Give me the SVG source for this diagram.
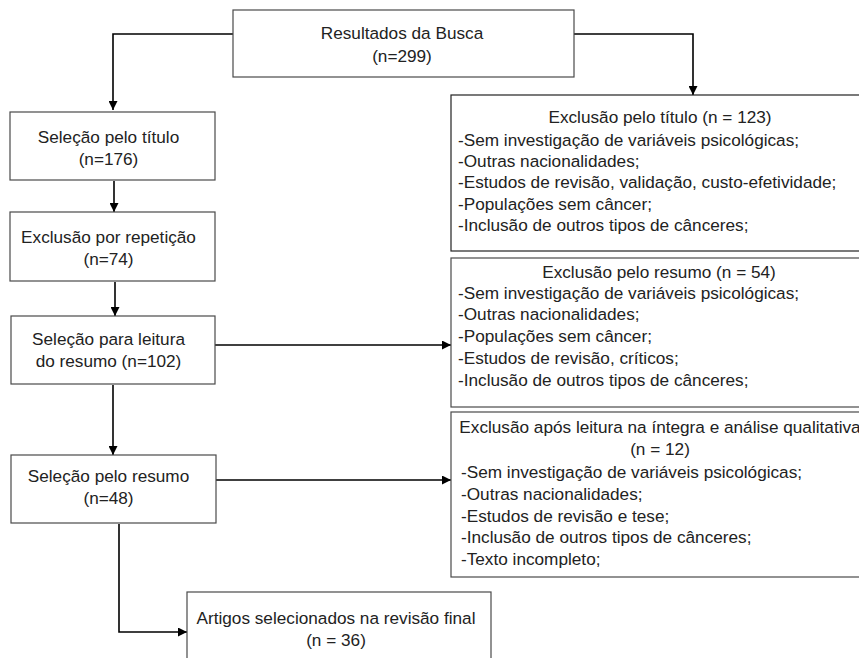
<svg xmlns="http://www.w3.org/2000/svg" width="859" height="658" viewBox="0 0 859 658">
<defs>
<style>
.box{fill:#fff;stroke:#4a4a4a;stroke-width:1.2}
.t{font-family:"Liberation Sans",Arial,sans-serif;font-size:17.2px;fill:#222}
.c{text-anchor:middle}
.edge{fill:none;stroke:#000;stroke-width:1.6}
</style>
<marker id="ah" viewBox="0 0 10 10" refX="10" refY="5" markerWidth="9" markerHeight="9" markerUnits="userSpaceOnUse" orient="auto">
<path d="M0,0 L10,5 L0,10 z" fill="#000"/>
</marker>
</defs>
<rect width="859" height="658" fill="#fff"/>
<g id="connectors">
<path class="edge" d="M233,34 H113 V110" marker-end="url(#ah)"/>
<path class="edge" d="M574,34 H693 V95" marker-end="url(#ah)"/>
<path class="edge" d="M114,181 V212" marker-end="url(#ah)"/>
<path class="edge" d="M115,282 V316" marker-end="url(#ah)"/>
<path class="edge" d="M215,345 H451" marker-end="url(#ah)"/>
<path class="edge" d="M113,385 V455" marker-end="url(#ah)"/>
<path class="edge" d="M216,480 H451" marker-end="url(#ah)"/>
<path class="edge" d="M119,524 V632 H187" marker-end="url(#ah)"/>
</g>
<g id="n_busca">
<rect class="box" x="233" y="10" width="341" height="67"/>
<text class="t c" x="402" y="39">Resultados da Busca</text>
<text class="t c" x="402" y="62">(n=299)</text>
</g>
<g id="n_titulo">
<rect class="box" x="10" y="112" width="205" height="68"/>
<text class="t c" x="108.5" y="143">Seleção pelo título</text>
<text class="t c" x="108.5" y="165">(n=176)</text>
</g>
<g id="n_repeticao">
<rect class="box" x="10" y="212" width="205" height="69"/>
<text class="t c" x="108.5" y="243">Exclusão por repetição</text>
<text class="t c" x="108.5" y="265">(n=74)</text>
</g>
<g id="n_leitura">
<rect class="box" x="11" y="316" width="204" height="68"/>
<text class="t c" x="108.5" y="345">Seleção para leitura</text>
<text class="t c" x="108.5" y="367">do resumo (n=102)</text>
</g>
<g id="n_resumo">
<rect class="box" x="11" y="455" width="205" height="68"/>
<text class="t c" x="108.5" y="482">Seleção pelo resumo</text>
<text class="t c" x="108.5" y="504">(n=48)</text>
</g>
<g id="n_final">
<rect class="box" x="187" y="592" width="304" height="80"/>
<text class="t c" x="336" y="624">Artigos selecionados na revisão final</text>
<text class="t c" x="336" y="646">(n = 36)</text>
</g>
<g id="n_excl_titulo">
<rect class="box" x="451" y="95" width="430" height="156" style="stroke:#222"/>
<text class="t c" x="660" y="123">Exclusão pelo título (n = 123)</text>
<text class="t" x="458" y="146">-Sem investigação de variáveis psicológicas;</text>
<text class="t" x="458" y="167">-Outras nacionalidades;</text>
<text class="t" x="458" y="188">-Estudos de revisão, validação, custo-efetividade;</text>
<text class="t" x="458" y="210">-Populações sem câncer;</text>
<text class="t" x="458" y="231">-Inclusão de outros tipos de cânceres;</text>
</g>
<g id="n_excl_resumo">
<rect class="box" x="451" y="258" width="430" height="149"/>
<text class="t c" x="659" y="278">Exclusão pelo resumo (n = 54)</text>
<text class="t" x="458" y="299">-Sem investigação de variáveis psicológicas;</text>
<text class="t" x="458" y="320">-Outras nacionalidades;</text>
<text class="t" x="458" y="342">-Populações sem câncer;</text>
<text class="t" x="458" y="364">-Estudos de revisão, críticos;</text>
<text class="t" x="458" y="386">-Inclusão de outros tipos de cânceres;</text>
</g>
<g id="n_excl_integra">
<rect class="box" x="451" y="412" width="430" height="165"/>
<text class="t c" x="660" y="433">Exclusão após leitura na íntegra e análise qualitativa</text>
<text class="t c" x="660" y="455">(n = 12)</text>
<text class="t" x="461" y="478">-Sem investigação de variáveis psicológicas;</text>
<text class="t" x="461" y="500">-Outras nacionalidades;</text>
<text class="t" x="461" y="522">-Estudos de revisão e tese;</text>
<text class="t" x="461" y="543">-Inclusão de outros tipos de cânceres;</text>
<text class="t" x="461" y="565">-Texto incompleto;</text>
</g>
</svg>
